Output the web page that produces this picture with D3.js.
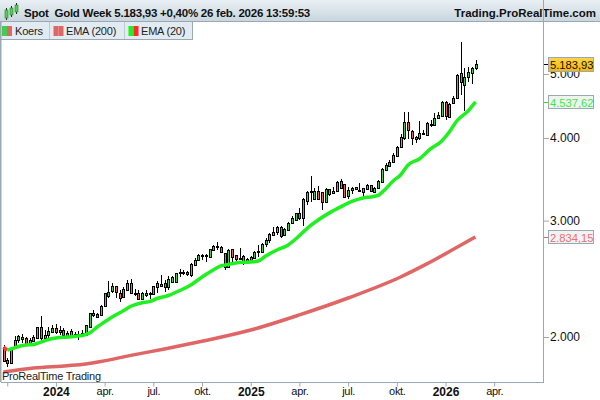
<!DOCTYPE html>
<html>
<head>
<meta charset="utf-8">
<script src="https://cdn.jsdelivr.net/npm/d3@7"></script>
<style>
  html, body { margin: 0; padding: 0; background: #fff; overflow: hidden; }
  text { font-family: "Liberation Sans", Arial, sans-serif; }
</style>
</head>
<body>
<div id="chart"></div>
<script>
// weekly candles (one entry per week)
var opens = [1931,1827,1827,1925,1979,1986,1993,1945,1972,1993,2071,1993,2014,2035,2064,2035,2050,2007,2014,2014,2007,2007,2014,2071,2160,2168,2160,2230,2307,2347,2388,2331,2299,2355,2414,2323,2331,2283,2315,2323,2323,2380,2388,2414,2380,2422,2422,2500,2500,2491,2483,2571,2615,2652,2652,2643,2708,2737,2737,2680,2553,2718,2661,2624,2652,2624,2606,2634,2689,2689,2766,2804,2853,2883,2934,2853,2904,2976,3007,3082,3028,3213,3315,3235,3327,3315,3202,3350,3304,3327,3444,3409,3269,3338,3373,3327,3315,3350,3397,3315,3362,3432,3579,3630,3681,3758,3878,4001,4230,4099,3987,4001,4071,4042,4186,4186,4290,4320,4535,4305,4519,4599,5020,4812,4950,5020,5107];
var highs = [1945,1859,1931,2007,2014,2021,2000,1993,2014,2071,2153,2050,2071,2086,2093,2079,2064,2043,2057,2035,2043,2050,2086,2176,2199,2176,2238,2331,2431,2414,2388,2355,2380,2439,2448,2363,2355,2339,2355,2339,2388,2431,2483,2439,2474,2474,2500,2535,2526,2518,2589,2634,2671,2671,2671,2718,2756,2785,2746,2680,2718,2718,2661,2727,2661,2634,2652,2699,2756,2775,2823,2873,2934,2945,2945,2924,2986,3050,3082,3136,3247,3327,3505,3362,3385,3315,3362,3350,3373,3444,3468,3409,3373,3373,3373,3420,3362,3409,3397,3373,3456,3604,3668,3706,3798,3891,4056,4380,4380,4114,4028,4245,4114,4230,4260,4365,4380,4551,4551,4519,4632,5002,5590,5107,5125,5125,5251];
var lows = [1840,1802,1827,1918,1959,1959,1945,1945,1965,1993,1972,1972,1993,2028,2021,2014,1993,1993,2007,1993,1979,2000,2007,2064,2145,2138,2153,2222,2291,2331,2291,2262,2291,2355,2331,2307,2283,2275,2299,2283,2315,2331,2380,2339,2355,2414,2414,2465,2483,2474,2465,2562,2606,2615,2598,2634,2699,2708,2680,2526,2553,2598,2606,2615,2571,2598,2589,2634,2643,2680,2737,2775,2853,2853,2823,2843,2904,2976,2997,3007,2945,3169,3202,3224,3235,3113,3191,3269,3292,3315,3362,3258,3235,3292,3338,3315,3258,3338,3315,3304,3350,3432,3566,3617,3668,3745,3864,3973,3987,3905,3932,3973,4042,4028,4157,4172,4275,4305,4260,4290,4503,4583,4649,4396,4863,4830,5071];
var closes = [1840,1846,1925,1979,2007,2000,1945,1979,2000,2071,1993,2014,2043,2064,2035,2050,2014,2028,2043,2021,2021,2028,2086,2176,2176,2145,2230,2331,2339,2388,2339,2291,2363,2414,2331,2331,2283,2331,2331,2331,2388,2414,2405,2380,2448,2465,2500,2509,2509,2509,2580,2615,2661,2661,2661,2718,2746,2746,2689,2553,2708,2643,2624,2634,2606,2606,2643,2689,2699,2766,2804,2863,2883,2934,2843,2914,2976,3028,3082,3028,3235,3315,3327,3327,3235,3202,3350,3292,3327,3432,3362,3258,3338,3362,3350,3338,3362,3397,3327,3362,3444,3591,3642,3681,3771,3878,4014,4230,4114,4001,4014,4071,4056,4215,4200,4290,4335,4535,4320,4503,4599,4985,4863,4950,5036,5107,5183.93];

// moving averages, read at a handful of weeks
var ema20Weeks = [1,2,4,6,8,10,12,14,17,21,23,25,27,29,32,34,37,39,41,44,47,50,53,56,58,60,62,66,68,70,73,76,78,80,82,84,87,90,93,96,98,100,102,104,106,108,111,114,117,119,121,124,126];
var ema20Values = [1911,1918,1935,1945,1948,1965,1983,1993,2000,2010,2028,2071,2108,2145,2191,2226,2254,2262,2287,2311,2351,2397,2465,2526,2562,2575,2589,2598,2606,2652,2708,2756,2814,2883,2950,3007,3082,3147,3207,3247,3258,3275,3350,3444,3517,3642,3719,3851,3959,4085,4245,4396,4537.62];
var ema20DownWeeks = [0,1];
var ema20DownValues = [1931,1911];
var ema200Weeks = [0,8,17,22,26,34,43,52,66,79,92,106,113,120,126];
var ema200Values = [1770,1795,1810,1821,1836,1876,1918,1965,2049,2160,2291,2465,2580,2712,2834.15];

// axes
var priceTicks = [2000,3000,4000,5000];
var tickWeeks = [1,14,27,40,53,66,79,92,105,118,131];
var tickLabels = ['','2024','apr.','jul.','okt.','2025','apr.','jul.','okt.','2026','apr.'];

var legendNames = ['Koers','EMA (200)','EMA (20)'];
var titleText = 'Spot  Gold Week 5.183,93 +0,40% 26 feb. 2026 13:59:53';

var UP = '#3fcf4a', DOWN = '#e06666', LIME = '#1ff01f', EMA_RED = '#e06666', GRID = '#9aa8b3';

var nl = d3.formatLocale({decimal: ',', thousands: '.', grouping: [3], currency: ['', '']});
var fmtTick = nl.format(',.0f'), fmtPrice = nl.format(',.2f');

var svg = d3.select('#chart').append('svg')
  .attr('width', 600).attr('height', 400)
  .style('display', 'block');

var scaleX = d3.scaleLinear().domain([0, 126]).range([3.5, 475.5]);
var scaleY = d3.scaleLog().domain([2000, 5000]).range([337, 74]);

// header
var defs = svg.append('defs');
var grad = defs.append('linearGradient').attr('id', 'head').attr('x1', 0).attr('x2', 0).attr('y1', 0).attr('y2', 1);
grad.append('stop').attr('offset', 0).attr('stop-color', '#e9f0f4');
grad.append('stop').attr('offset', 1).attr('stop-color', '#c9d6de');
var gold = defs.append('linearGradient').attr('id', 'gold').attr('x1', 0).attr('x2', 0).attr('y1', 0).attr('y2', 1);
gold.append('stop').attr('offset', 0).attr('stop-color', '#ffd54a');
gold.append('stop').attr('offset', 1).attr('stop-color', '#f7b500');

svg.append('rect').attr('width', 600).attr('height', 21).attr('fill', 'url(#head)');
svg.append('line').attr('x1', 0).attr('x2', 600).attr('y1', 21.5).attr('y2', 21.5).attr('stroke', GRID);

// little candle icon in the title bar
[[6, 10, 18, 8, 20], [11, 8, 15, 6, 17], [16, 5, 12, 3, 14]].forEach(function(c){
  svg.append('line').attr('x1', c[0] + .5).attr('x2', c[0] + .5).attr('y1', c[3]).attr('y2', c[4]).attr('stroke', '#222');
  svg.append('rect').attr('x', c[0] - 1).attr('y', c[1]).attr('width', 3).attr('height', c[2] - c[1])
    .attr('fill', '#4fd24f').attr('stroke', '#2d7a2d').attr('stroke-width', .6);
});

svg.append('text').attr('x', 24).attr('y', 17).attr('font-size', 11.5).attr('font-weight', 'bold')
  .attr('letter-spacing', -.25).attr('fill', '#111').style('white-space', 'pre').text(titleText);
svg.append('text').attr('x', 596).attr('y', 17).attr('text-anchor', 'end').attr('font-size', 11.5).attr('font-weight', 'bold')
  .attr('fill', '#111').text('Trading.ProRealTime.com');

// legend tabs
var tabEdges = [1, 49.5, 124.5, 192.5];
var swatches = [[UP, DOWN], [DOWN, DOWN], [LIME, '#ff2a2a']];
legendNames.forEach(function(name, i){
  var x0 = tabEdges[i], x1 = tabEdges[i + 1];
  svg.append('rect').attr('x', x0).attr('y', 22).attr('width', x1 - x0).attr('height', 17)
    .attr('fill', '#e3ebf2');
  svg.append('line').attr('x1', x1).attr('x2', x1).attr('y1', 22).attr('y2', 39).attr('stroke', GRID);
  svg.append('rect').attr('x', x0 + 1 + (i ? 3 : 0)).attr('y', 26).attr('width', 5).attr('height', 10).attr('fill', swatches[i][0]);
  svg.append('rect').attr('x', x0 + 6 + (i ? 3 : 0)).attr('y', 26).attr('width', 5).attr('height', 10).attr('fill', swatches[i][1]);
  svg.append('text').attr('x', x0 + 14 + (i ? 2.5 : 0)).attr('y', 35).attr('font-size', 11).attr('letter-spacing', -.2)
    .attr('fill', '#222').text(name);
});
svg.append('line').attr('x1', 0).attr('x2', 193).attr('y1', 39.5).attr('y2', 39.5).attr('stroke', GRID);
svg.append('rect').attr('x', 0).attr('y', 21).attr('width', 1.5).attr('height', 361).attr('fill', GRID);

// axes
var isYear = function(i){ return /^\d/.test(tickLabels[i]); };
var axisX = d3.axisBottom(scaleX).tickValues(tickWeeks).tickSize(4).tickPadding(.5)
  .tickFormat(function(d, i){ return tickLabels[i]; });
var axisY = d3.axisRight(scaleY).tickValues(priceTicks).tickSize(5).tickPadding(1)
  .tickFormat(fmtTick);

var gx = svg.append('g').attr('transform', 'translate(0,382.5)').call(axisX);
gx.select('.domain').remove();
gx.selectAll('line').attr('stroke', GRID);
gx.selectAll('text').attr('fill', '#111')
  .style('font-family', '"Liberation Sans", Arial, sans-serif')
  .attr('font-weight', function(d, i){ return isYear(i) ? 'bold' : 'normal'; })
  .attr('font-size', function(d, i){ return isYear(i) ? 12 : 11; })
  .attr('letter-spacing', function(d, i){ return isYear(i) ? 0 : -.3; });

var gy = svg.append('g').attr('transform', 'translate(544,0)').call(axisY);
gy.select('.domain').remove();
gy.selectAll('line').attr('stroke', GRID);
gy.selectAll('text').attr('fill', '#111').attr('font-size', 12)
  .style('font-family', '"Liberation Sans", Arial, sans-serif');

svg.append('line').attr('x1', 1).attr('x2', 544).attr('y1', 382.5).attr('y2', 382.5).attr('stroke', GRID);
svg.append('line').attr('x1', 543.5).attr('x2', 543.5).attr('y1', 0).attr('y2', 383).attr('stroke', GRID);

// ema lines
var lineOf = function(vals){
  return d3.line().x(function(d){ return scaleX(d); })
    .y(function(d, i){ return scaleY(vals[i]); })
    .curve(d3.curveMonotoneX);
};

svg.append('path').attr('d', lineOf(ema200Values)(ema200Weeks))
  .attr('fill', 'none').attr('stroke', EMA_RED).attr('stroke-width', 3.5);

// candles
var plot = svg.append('g').attr('class', 'candles');
var weeks = d3.range(closes.length);

plot.selectAll('line').data(weeks).enter().append('line')
  .attr('x1', function(d){ return Math.round(scaleX(d)) + .5; })
  .attr('x2', function(d){ return Math.round(scaleX(d)) + .5; })
  .attr('y1', function(d){ return scaleY(highs[d]); })
  .attr('y2', function(d){ return scaleY(lows[d]); })
  .attr('stroke', '#000').attr('shape-rendering', 'crispEdges');

plot.selectAll('rect').data(weeks).enter().append('rect')
  .attr('x', function(d){ return Math.round(scaleX(d)) - .5; })
  .attr('width', 2)
  .attr('y', function(d){ return Math.round(scaleY(Math.max(opens[d], closes[d]))) + .5; })
  .attr('height', function(d){ return Math.max(1, Math.round(scaleY(Math.min(opens[d], closes[d])) - scaleY(Math.max(opens[d], closes[d])))); })
  .attr('fill', function(d){ return closes[d] >= opens[d] ? UP : DOWN; })
  .attr('stroke', '#000').attr('shape-rendering', 'crispEdges');

svg.append('path').attr('d', lineOf(ema20DownValues)(ema20DownWeeks))
  .attr('fill', 'none').attr('stroke', '#ff3a3a').attr('stroke-width', 3.5);
svg.append('path').attr('d', lineOf(ema20Values)(ema20Weeks))
  .attr('fill', 'none').attr('stroke', LIME).attr('stroke-width', 3.5);

// last value badges on the price axis
var badges = [
  {value: ema200Values[ema200Values.length - 1], text: '#ec6f6f', fill: '#f2f2f2', tick: '#e06666', h: 13},
  {value: ema20Values[ema20Values.length - 1], text: '#33f033', fill: '#f2f2f2', tick: '#22e022', h: 13},
  {value: closes[closes.length - 1], text: '#111', fill: 'url(#gold)', tick: '#000', h: 14}
];
badges.forEach(function(b){
  var yy = Math.round(scaleY(b.value));
  svg.append('line').attr('x1', 544).attr('x2', 549).attr('y1', yy + .5).attr('y2', yy + .5).attr('stroke', b.tick);
  svg.append('rect').attr('x', 548.5).attr('y', yy - 6.5).attr('width', 45).attr('height', b.h)
    .attr('fill', b.fill).attr('stroke', GRID);
  svg.append('text').attr('x', 550).attr('y', yy + 4.5).attr('font-size', 11.2).attr('fill', b.text).text(fmtPrice(b.value));
});

svg.append('text').attr('x', 2).attr('y', 380).attr('font-size', 11).attr('letter-spacing', -.25).attr('fill', '#222').text('ProRealTime Trading');
</script>
</body>
</html>
